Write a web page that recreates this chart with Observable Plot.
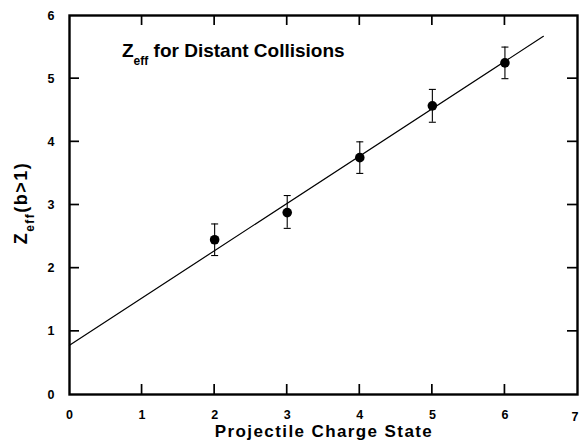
<!DOCTYPE html>
<html><head><meta charset="utf-8">
<script src="https://cdn.jsdelivr.net/npm/d3@7"></script>
<script src="https://cdn.jsdelivr.net/npm/@observablehq/plot@0.6"></script>
<style>
body{margin:0;background:#fff;}
#chart svg{font-family:"Liberation Sans",Arial,sans-serif;}
</style>
</head><body><div id="chart"></div>
<script>
const chargeState = [2, 3, 4, 5, 6];
const zeff = [2.45, 2.88, 3.75, 4.57, 5.25];
const errLow = [2.20, 2.63, 3.50, 4.31, 5.00];
const errHigh = [2.70, 3.15, 4.00, 4.83, 5.50];
const fitX = [0, 6.53];
const fitIntercept = 0.78;
const fitSlope = 0.749;
const xTicks = [0, 1, 2, 3, 4, 5, 6, 7];
const yTicks = [0, 1, 2, 3, 4, 5, 6];

const pts = chargeState.map((x, i) => ({x, y: zeff[i], lo: errLow[i], hi: errHigh[i]}));
const fit = fitX.map(x => ({x, y: fitIntercept + fitSlope * x}));

const W = 579, H = 442;
const mL = 69, mR = 2, mT = 15, mB = 48;
const pxX = 7 / (W - mL - mR);
const tickLen = 10, capHalf = 3.5;

const innerX = xTicks.slice(1, -1);
const innerY = yTicks.slice(1, -1);
const caps = pts.flatMap(d => [d.lo, d.hi].map(v => ({x1: d.x - capHalf * pxX, x2: d.x + capHalf * pxX, y: v})));

const plot = Plot.plot({
  width: W, height: H,
  marginLeft: mL, marginRight: mR, marginTop: mT, marginBottom: mB,
  x: {domain: [0, 7], ticks: xTicks, label: null},
  y: {domain: [0, 6], ticks: yTicks, label: null},
  style: {fontFamily: "Liberation Sans, Arial, sans-serif", color: "#000"},
  marks: [
    Plot.frame({stroke: "#000", strokeWidth: 2.4}),
    Plot.axisX({ticks: xTicks.slice(0, -1), tickSize: 0, tickPadding: 16, fontSize: 12.5, fontWeight: "bold", tickFormat: d => d}),
    Plot.text(xTicks.slice(-1), {x: d => d, y: 0, text: d => String(d), textAnchor: "end", dx: 1, dy: 22, fontSize: 12.5, fontWeight: "bold"}),
    Plot.axisY({ticks: yTicks, tickSize: 0, tickPadding: 15, fontSize: 12.5, fontWeight: "bold", tickFormat: d => d}),
    Plot.line(fit, {x: "x", y: "y", stroke: "#000", strokeWidth: 1.2}),
    Plot.ruleX(pts, {x: "x", y1: "lo", y2: "hi", stroke: "#000", strokeWidth: 1.1}),
    Plot.link(caps, {x1: "x1", x2: "x2", y1: "y", y2: "y", stroke: "#000", strokeWidth: 1.1}),
    Plot.dot(pts, {x: "x", y: "y", r: 4.8, fill: "#000"})
  ]
});

const svg = d3.select(plot);
const sx = plot.scale("x"), sy = plot.scale("y");
const font = "Liberation Sans, Arial, sans-serif";

// inward ticks on all four sides, placed with Plot's own scales
const tg = svg.append("g").attr("stroke", "#000").attr("stroke-width", 1.7);
const yBot = sy.apply(0), yTop = sy.apply(6), xL = sx.apply(0), xR = sx.apply(7);
innerX.forEach(t => {
  const px = sx.apply(t);
  tg.append("line").attr("x1", px).attr("x2", px).attr("y1", yBot).attr("y2", yBot - tickLen);
  tg.append("line").attr("x1", px).attr("x2", px).attr("y1", yTop).attr("y2", yTop + tickLen);
});
innerY.forEach(t => {
  const py = sy.apply(t);
  tg.append("line").attr("y1", py).attr("y2", py).attr("x1", xL).attr("x2", xL + tickLen);
  tg.append("line").attr("y1", py).attr("y2", py).attr("x1", xR).attr("x2", xR - tickLen);
});

// Title with subscript
const title = svg.append("text")
  .attr("x", 122).attr("y", 57)
  .attr("text-anchor", "start")
  .attr("font-family", font)
  .attr("font-weight", "bold").attr("font-size", 19).attr("fill", "#000");
title.append("tspan").text("Z");
title.append("tspan").attr("font-size", 12).attr("dy", 8).text("eff");
title.append("tspan").attr("dy", -8).text(" for Distant Collisions");

// Y label
const yl = svg.append("text")
  .attr("transform", "translate(27,203) rotate(-90)")
  .attr("text-anchor", "middle")
  .attr("font-family", font)
  .attr("letter-spacing", 1.5)
  .attr("font-weight", "bold").attr("font-size", 18).attr("fill", "#000");
yl.append("tspan").text("Z");
yl.append("tspan").attr("font-size", 12).attr("dy", 7).text("eff");
yl.append("tspan").attr("dy", -7).text("(b>1)");

// X label
svg.append("text")
  .attr("x", 324).attr("y", 437)
  .attr("text-anchor", "middle")
  .attr("font-family", font)
  .attr("letter-spacing", 1.4)
  .attr("font-weight", "bold").attr("font-size", 17).attr("fill", "#000")
  .text("Projectile Charge State");

document.getElementById("chart").appendChild(plot);
</script>
</body></html>
